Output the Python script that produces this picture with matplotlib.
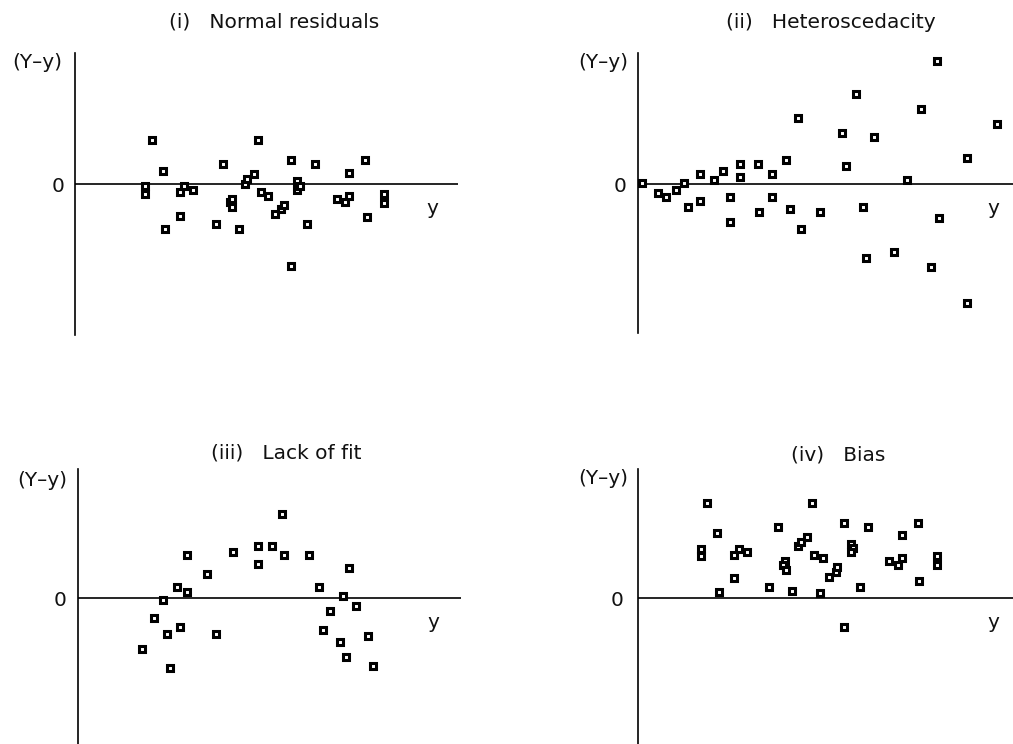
import matplotlib
matplotlib.use("Agg")
import matplotlib.pyplot as plt

W, H = 1013, 744

# Panel (i): normal residuals
fit_i = [7.7, 7.0, 7.0, 8.8, 9.0, 10.5, 10.9, 10.5, 11.8, 14.8, 14.1, 15.5, 15.7, 15.7,
         16.4, 17.0, 17.2, 17.9, 18.3, 18.6, 19.3, 20.0, 20.6, 20.9, 21.6, 21.6, 22.2,
         22.2, 22.5, 23.2, 24.0, 26.2, 27.0, 27.4, 27.4, 29.0, 29.2, 30.9, 30.9]
res_i = [4.4, -0.2, -1.0, 1.3, -4.5, -0.8, -0.2, -3.2, -0.6, 2.0, -4.0, -1.8, -1.5, -2.3,
         -4.5, 0.0, 0.5, 1.0, 4.4, -0.8, -1.2, -3.0, -2.5, -2.1, 2.4, -8.2, 0.3,
         -0.6, -0.2, -4.0, 2.0, -1.5, -1.8, -1.2, 1.1, 2.4, -3.3, -1.0, -1.9]

# Panel (ii): heteroscedacity
fit_ii = [0.4, 2.0, 2.8, 3.8, 4.6, 5.0, 6.2, 6.2, 7.6, 8.5, 9.2, 9.2, 10.2, 10.2, 12.0,
          12.1, 13.4, 13.4, 14.8, 15.2, 16.0, 16.3, 18.2, 20.4, 20.8, 21.8, 22.5, 22.8,
          23.6, 25.6, 26.9, 28.3, 29.3, 29.9, 30.1, 32.9, 32.9, 35.9]
res_ii = [0.1, -0.9, -1.3, -0.6, 0.1, -2.3, 1.0, -1.7, 0.4, 1.3, -1.3, -3.8, 2.0, 0.7, 2.0,
          -2.8, 1.0, -1.3, 2.4, -2.5, 6.6, -4.5, -2.8, 5.1, 1.8, 9.0, -2.3, -7.4,
          4.7, -6.8, 0.4, 7.5, -8.3, 12.3, -3.4, 2.6, -11.9, 6.0]

# Panel (iii): lack of fit
fit_iii = [6.4, 7.6, 8.5, 8.9, 9.2, 9.9, 10.2, 10.9, 10.9, 12.9, 13.8, 15.5, 18.0, 18.0,
           19.4, 20.4, 20.6, 23.1, 24.1, 24.5, 25.2, 26.5, 27.1, 26.2, 26.8, 27.8, 29.0, 29.5]
res_iii = [-5.1, -2.0, -0.2, -3.6, -7.0, 1.1, -2.9, 4.3, 0.6, 2.4, -3.6, 4.6, 5.2, 3.4,
           5.2, 8.4, 4.3, 4.3, 1.1, -3.2, -1.3, 0.2, 3.0, -4.4, -5.9, -0.8, -3.8, -6.8]

# Panel (iv): bias
fit_iv = [6.3, 6.3, 6.9, 7.9, 8.1, 9.6, 9.6, 10.1, 10.9, 13.1, 14.0, 14.7, 14.5, 14.8,
          15.4, 16.0, 16.3, 16.9, 17.4, 17.6, 18.2, 18.5, 19.1, 19.8, 19.9, 20.6, 20.6,
          21.3, 21.5, 21.3, 22.2, 23.0, 25.1, 26.0, 26.4, 26.4, 28.0, 28.1, 29.9, 29.9]
res_iv = [4.9, 4.2, 9.5, 6.5, 0.6, 2.0, 4.3, 4.9, 4.6, 1.1, 7.1, 3.7, 3.3, 2.8,
          0.7, 5.2, 5.6, 6.1, 9.5, 4.3, 0.5, 4.0, 2.1, 2.6, 3.1, 7.5, -2.9,
          5.4, 5.0, 4.6, 1.1, 7.1, 3.7, 3.3, 4.0, 6.3, 7.5, 1.7, 4.2, 3.3]

titles = ["(i)   Normal residuals", "(ii)   Heteroscedacity",
          "(iii)   Lack of fit", "(iv)   Bias"]

plt.rcParams["font.family"] = ["DejaVu Sans"]
fig = plt.figure(figsize=(W / 100, H / 100), dpi=100)


def fx(px):
    return px / W


def fy(py):
    return 1 - py / H


# left, right, top, bottom, zero-line (pixels)
frames = [
    (75, 458, 53, 335, 184),
    (638, 1013, 53, 333, 184),
    (78, 461, 469, 744, 598),
    (638, 1013, 469, 744, 598),
]
title_pos = [(274, 22), (831, 22), (286, 453), (838, 455)]
ylab_pos = [(37, 63), (603, 63), (42, 480), (603, 478)]
zero_pos = [(58, 186), (620, 186), (60, 600), (617, 600)]
y_pos = [(432, 208), (993, 208), (433, 622), (993, 622)]

data = [(fit_i, res_i), (fit_ii, res_ii), (fit_iii, res_iii), (fit_iv, res_iv)]

txt = dict(color="#111111", fontsize=14.5, ha="center", va="center")

for k, (l, r, t, b, z) in enumerate(frames):
    ax = fig.add_axes([fx(l), fy(b), (r - l) / W, (b - t) / H])
    ax.set_xlim(0, (r - l) / 10)
    ax.set_ylim(-(b - z) / 10, (z - t) / 10)
    for side in ("top", "right", "bottom"):
        ax.spines[side].set_visible(False)
    ax.spines["left"].set_linewidth(1.2)
    ax.set_xticks([])
    ax.set_yticks([])
    ax.patch.set_alpha(0)
    ax.axhline(0, color="black", lw=1.2)
    xs, ys = data[k]
    ax.plot(xs, ys, ls="none", marker="s", ms=3.8, mfc="white", mec="black",
            mew=2.2, clip_on=False)

    fig.text(fx(title_pos[k][0]), fy(title_pos[k][1]), titles[k], **txt)
    fig.text(fx(ylab_pos[k][0]), fy(ylab_pos[k][1]), "(Y\u2013y)", **txt)
    fig.text(fx(zero_pos[k][0]), fy(zero_pos[k][1]), "0", **txt)
    fig.text(fx(y_pos[k][0]), fy(y_pos[k][1]), "y", **txt)

fig.savefig("out.png", dpi=100, facecolor="white")
